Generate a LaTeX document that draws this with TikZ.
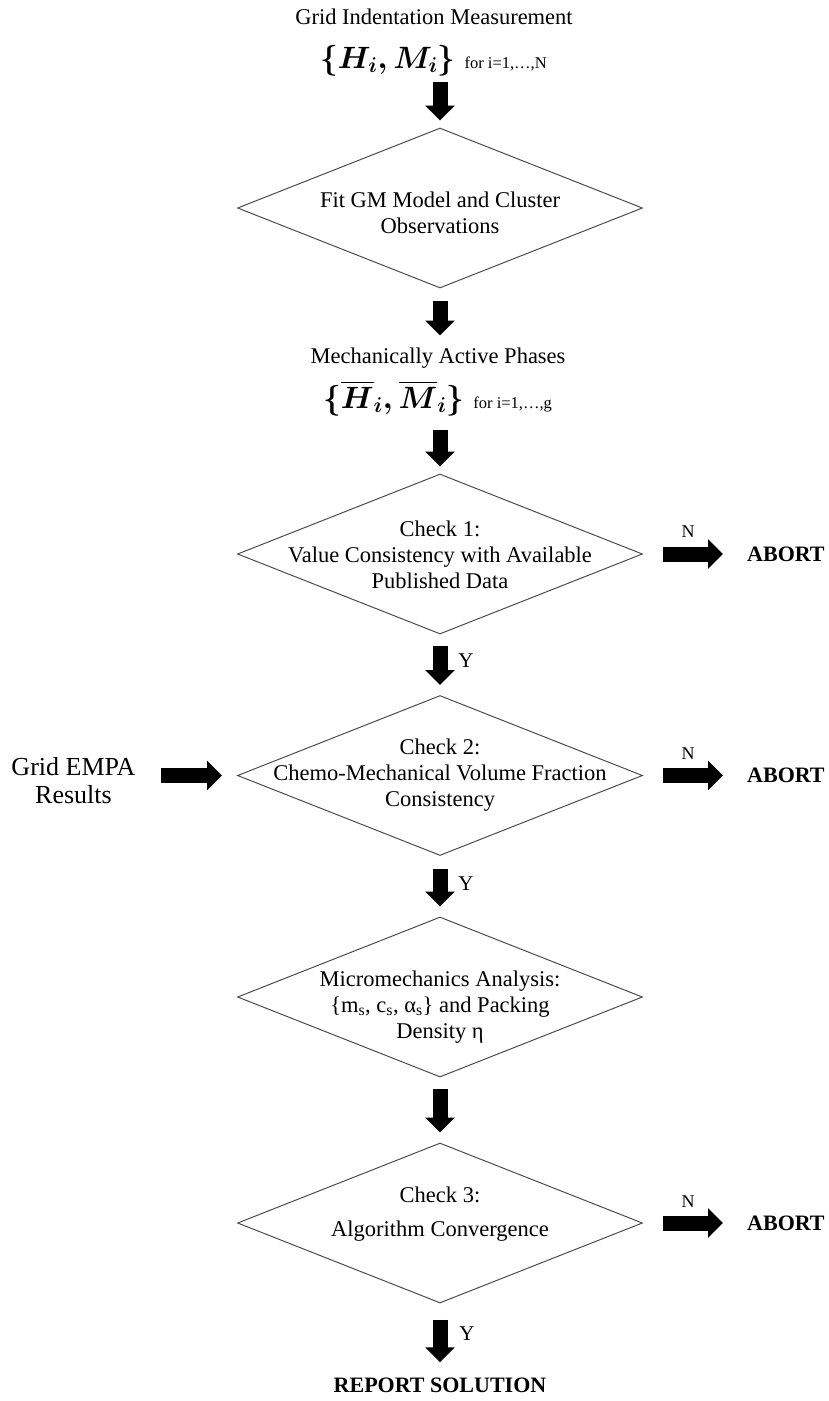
\documentclass[tikz,border=0pt]{standalone}
\usepackage{amsmath}
\usepackage{graphicx}
\usepackage{fontspec}
\setmainfont{Liberation Serif}
\usetikzlibrary{arrows.meta,shapes.geometric,calc}
\begin{document}
\begin{tikzpicture}[x=1pt,y=-1pt,
  dia/.style={draw=black!70, line width=1pt, shape=diamond, minimum width=405pt, minimum height=160pt, inner sep=0pt},
  txt/.style={font=\fontsize{22.5}{26}\selectfont, align=center, inner sep=0pt},
  barrow/.style={line width=15pt, -{Triangle[length=15pt,width=29pt]}},
  nlab/.style={inner sep=0pt, font=\fontsize{18}{20}\selectfont},
  ylab/.style={inner sep=0pt, font=\fontsize{21}{24}\selectfont},
  abort/.style={inner sep=0pt, anchor=west, font=\bfseries\fontsize{22}{26}\selectfont},
]
\useasboundingbox (0,0) rectangle (828,1401);

% top inputs
\node[txt, anchor=base] (top) at (434,24) {Grid Indentation Measurement};
\node[anchor=base, inner sep=0pt] (m1) at (433.5,68) {\scalebox{1.24}{\fontsize{24}{28}\selectfont$\boldsymbol{\{H_i, M_i\}}$}\hspace{9pt}{\fontsize{16.5}{18}\selectfont for i=1,…,N}};

% diamonds
\node[dia] (d1) at (440,208) {};
\node[dia] (d2) at (440,554) {};
\node[dia] (d3) at (440,775.5) {};
\node[dia] (d4) at (440,997) {};
\node[dia] (d5) at (440,1223) {};

\node[txt] (t1) at (440,214.8) {\strut Fit GM Model and Cluster\\Observations\strut};
\node[txt] (t2) at (440,556.8) {\strut Check 1:\\Value Consistency with Available\\Published Data\strut};
\node[txt] (t3) at (440,775.3) {\strut Check 2:\\Chemo-Mechanical Volume Fraction\\Consistency\strut};
\node[txt] (t4) at (440,1007.3) {\strut Micromechanics Analysis:\\\{m\textsubscript{s}, c\textsubscript{s}, α\textsubscript{s}\} and Packing\\Density η\strut};
\node[txt] (t5) at (440,1213.8) {\strut Check 3:\\[8pt]Algorithm Convergence\strut};

% intermediate result
\node[txt, anchor=base] (mid) at (438,363) {Mechanically Active Phases};
\node[anchor=base, inner sep=0pt] (m2) at (437.5,408) {\scalebox{1.24}{\fontsize{24}{28}\selectfont$\boldsymbol{\{\overline{H}_i, \overline{M}_i\}}$}\hspace{9pt}{\fontsize{16.5}{18}\selectfont for i=1,…,g}};

% side input
\node[txt, font=\fontsize{26}{28}\selectfont] (empa) at (73.5,783.4) {\strut Grid EMPA\\Results\strut};

% outputs
\node[abort] (ab1) at (747,554) {ABORT};
\node[abort] (ab2) at (747,775.5) {ABORT};
\node[abort] (ab3) at (747,1223) {ABORT};
\node[inner sep=0pt, anchor=base, font=\bfseries\fontsize{22}{26}\selectfont] (rep) at (440,1392) {REPORT SOLUTION};

% labels
\node[nlab] (n1) at (688,532) {N};
\node[nlab] (n2) at (688,754) {N};
\node[nlab] (n3) at (688,1202) {N};
\node[ylab] (y1) at (466,661) {Y};
\node[ylab] (y2) at (466,884) {Y};
\node[ylab] (y3) at (467,1334) {Y};

% vertical arrows
\draw[barrow] ($(d1.north)+(0,-46)$) -- ($(d1.north)+(0,-7)$);
\draw[barrow] ($(d1.south)+(0,12)$) -- ($(d1.south)+(0,47)$);
\draw[barrow] ($(d2.north)+(0,-44)$) -- ($(d2.north)+(0,-7)$);
\draw[barrow, shorten <=11pt, shorten >=10pt] (d2.south) -- (d3.north);
\draw[barrow, shorten <=13pt, shorten >=10pt] (d3.south) -- (d4.north);
\draw[barrow, shorten <=11pt, shorten >=10pt] (d4.south) -- (d5.north);
\draw[barrow, shorten <=16pt, shorten >=15pt] (d5.south) -- (rep.north);

% horizontal arrows
\draw[barrow, shorten <=20pt, shorten >=24pt] (d2.east) -- (ab1.west |- d2.east);
\draw[barrow, shorten <=20pt, shorten >=24pt] (d3.east) -- (ab2.west |- d3.east);
\draw[barrow, shorten <=20pt, shorten >=24pt] (d5.east) -- (ab3.west |- d5.east);
\draw[barrow, shorten <=25pt, shorten >=15pt] (empa.east |- d3.west) -- (d3.west);
\end{tikzpicture}
\end{document}
